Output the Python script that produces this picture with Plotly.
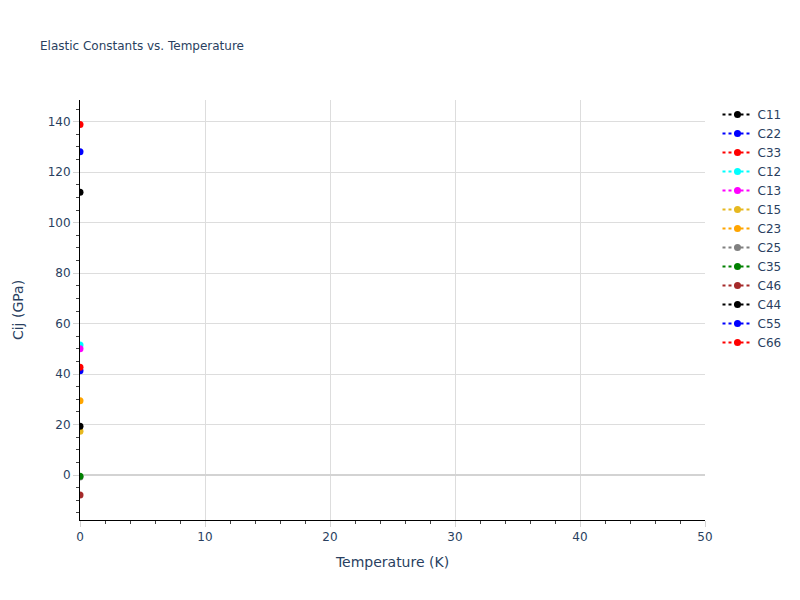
import plotly.graph_objects as go

# elastic constants at T = 0 K
temperature = [0]
names = ["C11", "C22", "C33", "C12", "C13", "C15", "C23",
         "C25", "C35", "C46", "C44", "C55", "C66"]
values = [112.1, 128.1, 138.9, 51.5, 50.0, 17.4, 29.4,
          -0.8, -0.5, -7.9, 19.3, 41.3, 42.7]
colors = ["black", "blue", "red", "cyan", "magenta", "#e6b820", "orange",
          "gray", "green", "brown", "black", "blue", "red"]

fig = go.Figure()
for name, val, col in zip(names, values, colors):
    fig.add_trace(
        go.Scatter(
            x=temperature,
            y=[val],
            mode="lines+markers",
            name=name,
            line=dict(color=col, dash="dot"),
            marker=dict(color=col, size=7),
        )
    )

fig.update_layout(
    width=800,
    height=600,
    font=dict(family="DejaVu Sans"),
    title=dict(text="Elastic Constants vs. Temperature", font=dict(size=12), x=0.05),
    plot_bgcolor="white",
    paper_bgcolor="white",
    legend=dict(font=dict(size=12)),
    margin=dict(l=80, r=95, t=100, b=80),
)

fig.update_xaxes(
    title_text="Temperature (K)",
    title_standoff=13,
    range=[0, 50],
    dtick=10,
    ticks="outside",
    ticklen=6,
    tickcolor="#d3d3d3",
    showline=True,
    linecolor="black",
    linewidth=1,
    gridcolor="#dddddd",
    zeroline=False,
    minor=dict(dtick=2, ticks="outside", ticklen=3, tickcolor="#444", showgrid=False),
)
fig.update_yaxes(
    title_text="Cij (GPa)",
    title_standoff=20,
    range=[-17.8, 148.6],
    dtick=20,
    ticks="outside",
    ticklen=6,
    tickcolor="#d3d3d3",
    showline=True,
    linecolor="black",
    linewidth=1,
    gridcolor="#dddddd",
    zeroline=True,
    zerolinecolor="#d3d3d3",
    zerolinewidth=2,
    minor=dict(dtick=5, ticks="outside", ticklen=3, tickcolor="#444", showgrid=False),
)

# drop the browser's default body margin so the figure sits at the page corner
fig.write_html(
    "out.html",
    config={"displayModeBar": False},
    post_script="document.body.style.margin='0';",
)
